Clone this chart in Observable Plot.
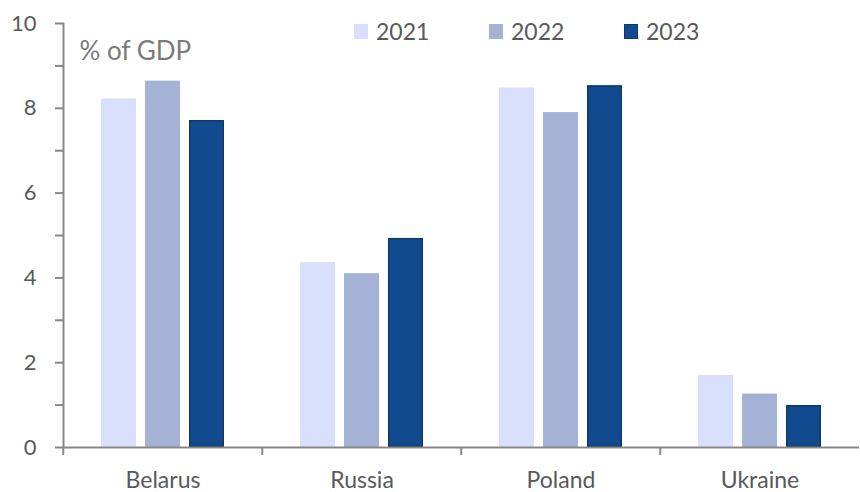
<!DOCTYPE html>
<html><head><meta charset="utf-8">
<script src="https://cdn.jsdelivr.net/npm/d3@7"></script>
<script src="https://cdn.jsdelivr.net/npm/@observablehq/plot@0.6"></script>
<style>
body{margin:0;background:#fff;}
#wrap{position:relative;width:860px;height:492px;overflow:hidden;}
.legend{position:absolute;top:17px;left:354px;display:flex;font-family:Lato,sans-serif;font-size:23px;color:#595959;line-height:28px;}
.legend .item{display:flex;align-items:center;margin-right:0;}
.legend .sw{width:14px;height:15px;margin-right:8px;box-sizing:border-box;}
</style></head><body><div id="wrap"></div>
<script>
const countries = ["Belarus", "Russia", "Poland", "Ukraine"];
const years = ["2021", "2022", "2023"];
const v2021 = [8.22, 4.36, 8.48, 1.70];
const v2022 = [8.64, 4.10, 7.90, 1.26];
const v2023 = [7.71, 4.93, 8.53, 0.99];
const yTickVals = [0, 1, 2, 3, 4, 5, 6, 7, 8, 9, 10];
const unitLabel = "% of GDP";

const colors = ["#d9e0fb", "#a4b3d5", "#124a8f"];
const series = [v2021, v2022, v2023];
const data = countries.flatMap((c, i) => years.map((y, j) => ({country: c, year: y, value: series[j][i]})));

const W = 860, H = 492, mL = 62, mR = 0, mT = 23, mB = 45;
const bandW = (W - mL - mR) / countries.length;
const axisGrey = "#878787";

const chart = Plot.plot({
  width: W, height: H,
  marginLeft: mL, marginRight: mR, marginTop: mT, marginBottom: mB,
  style: {fontFamily: "Lato, sans-serif", fontSize: "20px", color: "#595959", background: "#fff"},
  fx: {domain: countries, padding: 0, label: null},
  x: {domain: years, paddingInner: 0.21, paddingOuter: 0.86, axis: null},
  y: {domain: [0, 10], axis: null},
  color: {domain: years, range: colors},
  marks: [
    Plot.barY(data, {fx: "country", x: "year", y: "value", fill: "year"}),
    Plot.barY(data.filter(d => d.year === "2023"), {fx: "country", x: "year", y: "value", fill: "none", stroke: "#0d3b63", strokeWidth: 1.5, inset: 0.75}),
    Plot.ruleY([0], {stroke: axisGrey, strokeWidth: 2}),
    Plot.frame({anchor: "left", facet: "super", stroke: axisGrey, strokeWidth: 2}),
    Plot.axisY(yTickVals, {anchor: "left", tickSize: 8, tickPadding: 19, tickFormat: d => d % 2 ? "" : d, stroke: axisGrey, strokeWidth: 2, fill: "#595959", fontSize: 22, label: null}),
    Plot.axisFx({anchor: "bottom", tickSize: 0, tickPadding: 24, fontSize: 23, fill: "#595959", label: null}),
    Plot.axisFx({anchor: "bottom", tickSize: 8, tickFormat: () => "", dx: -bandW / 2, stroke: axisGrey, strokeWidth: 2, label: null}),
    Plot.text([{country: countries[0]}], {fx: "country", text: () => unitLabel, frameAnchor: "top-left", dx: 16, dy: 18, fontSize: 26, fill: "#7a7a7a"})
  ]
});
const wrap = document.getElementById("wrap");
wrap.appendChild(chart);

const legend = document.createElement("div");
legend.className = "legend";
years.forEach((y, i) => {
  const item = document.createElement("div");
  item.className = "item";
  item.style.width = "135px";
  const sw = document.createElement("div");
  sw.className = "sw";
  sw.style.background = colors[i];
  if (y === "2023") sw.style.border = "1.5px solid #0d3b63";
  const t = document.createElement("span");
  t.textContent = y;
  item.appendChild(sw); item.appendChild(t);
  legend.appendChild(item);
});
wrap.appendChild(legend);
</script>
</body></html>
